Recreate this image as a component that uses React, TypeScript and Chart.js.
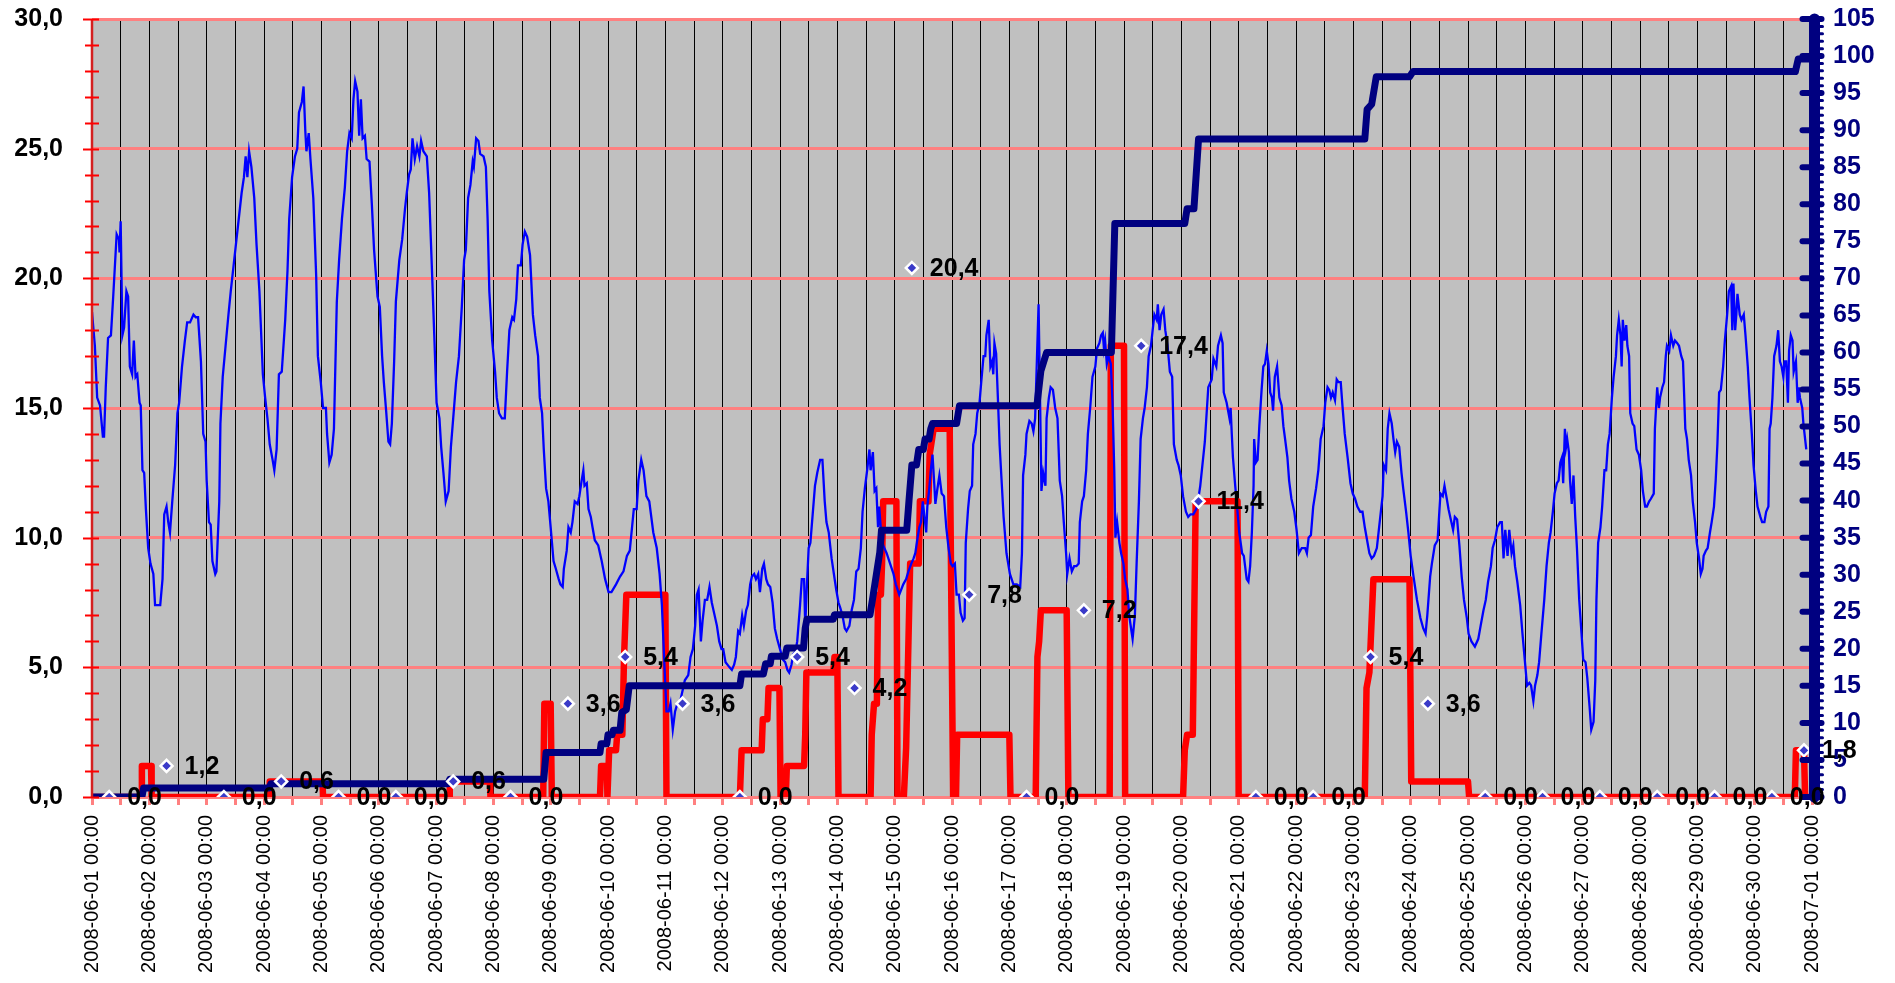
import React, { useEffect, useRef } from 'react';
import { Chart, registerables } from 'chart.js';

Chart.register(...registerables);

// x values are days since 2008-06-01 00:00
const dateTickLabels = [
  '2008-06-01 00:00', '2008-06-02 00:00', '2008-06-03 00:00', '2008-06-04 00:00', '2008-06-05 00:00',
  '2008-06-06 00:00', '2008-06-07 00:00', '2008-06-08 00:00', '2008-06-09 00:00', '2008-06-10 00:00',
  '2008-06-11 00:00', '2008-06-12 00:00', '2008-06-13 00:00', '2008-06-14 00:00', '2008-06-15 00:00',
  '2008-06-16 00:00', '2008-06-17 00:00', '2008-06-18 00:00', '2008-06-19 00:00', '2008-06-20 00:00',
  '2008-06-21 00:00', '2008-06-22 00:00', '2008-06-23 00:00', '2008-06-24 00:00', '2008-06-25 00:00',
  '2008-06-26 00:00', '2008-06-27 00:00', '2008-06-28 00:00', '2008-06-29 00:00', '2008-06-30 00:00',
  '2008-07-01 00:00',
];

// temperature [day, °C] (left axis)
const temperature: [number, number][] = [
  [0, 18.7], [0.05, 17.4], [0.09, 15.4], [0.14, 15.1], [0.19, 13.9], [0.21, 13.9], [0.24, 15.8], [0.28, 17.7],
  [0.33, 17.8], [0.37, 19.3], [0.43, 21.7], [0.47, 21.5], [0.48, 21.0], [0.5, 22.2], [0.53, 17.8], [0.56, 18.1],
  [0.6, 19.5], [0.63, 19.3], [0.66, 16.6], [0.7, 16.3], [0.73, 17.6], [0.76, 16.2], [0.79, 16.3], [0.83, 15.2],
  [0.85, 15.1], [0.88, 12.6], [0.91, 12.5], [0.94, 11.1], [0.98, 9.6], [1.02, 9.0], [1.07, 8.6], [1.1, 7.4],
  [1.16, 7.4], [1.19, 7.4], [1.23, 8.4], [1.26, 10.9], [1.3, 11.2], [1.33, 10.6], [1.36, 10.2], [1.4, 11.4],
  [1.45, 12.8], [1.49, 14.8], [1.52, 15.2], [1.57, 16.6], [1.62, 17.6], [1.66, 18.3], [1.71, 18.3], [1.77, 18.6],
  [1.81, 18.5], [1.85, 18.5], [1.9, 16.8], [1.94, 14.0], [1.98, 13.7], [2.0, 12.2], [2.04, 10.6], [2.07, 10.5],
  [2.1, 9.1], [2.15, 8.6], [2.17, 8.7], [2.22, 11.4], [2.24, 14.4], [2.28, 16.2], [2.33, 17.4], [2.38, 18.6],
  [2.42, 19.5], [2.48, 20.7], [2.52, 21.5], [2.57, 22.5], [2.61, 23.3], [2.65, 23.9], [2.68, 24.7], [2.71, 23.9],
  [2.74, 24.9], [2.78, 24.3], [2.83, 23.1], [2.87, 21.3], [2.92, 19.5], [2.98, 16.3], [3.02, 15.4], [3.06, 14.6],
  [3.1, 13.6], [3.15, 13.0], [3.18, 12.6], [3.22, 13.4], [3.26, 16.3], [3.31, 16.4], [3.37, 18.4], [3.41, 20.3],
  [3.44, 22.3], [3.49, 23.9], [3.54, 24.7], [3.58, 25.0], [3.61, 26.4], [3.66, 26.8], [3.69, 27.4], [3.72, 25.7],
  [3.74, 24.9], [3.78, 25.6], [3.81, 24.6], [3.86, 23.1], [3.91, 20.1], [3.94, 17.0], [3.99, 16.0], [4.03, 15.0],
  [4.08, 15.0], [4.1, 14.0], [4.14, 12.9], [4.18, 13.2], [4.22, 14.2], [4.27, 19.1], [4.31, 20.7], [4.36, 22.3],
  [4.41, 23.5], [4.45, 24.9], [4.49, 25.6], [4.53, 25.4], [4.56, 26.9], [4.59, 27.6], [4.63, 27.2], [4.66, 25.5],
  [4.69, 26.9], [4.72, 25.4], [4.76, 25.5], [4.79, 24.6], [4.84, 24.5], [4.88, 22.9], [4.92, 21.1], [4.98, 19.3],
  [5.02, 18.9], [5.06, 17.0], [5.09, 16.0], [5.13, 14.9], [5.17, 13.7], [5.2, 13.6], [5.23, 14.4], [5.27, 16.8],
  [5.3, 19.1], [5.36, 20.7], [5.41, 21.5], [5.46, 22.7], [5.49, 23.3], [5.53, 24.0], [5.56, 24.2], [5.59, 25.4],
  [5.63, 24.6], [5.67, 25.1], [5.71, 24.7], [5.74, 25.3], [5.78, 24.9], [5.84, 24.7], [5.88, 23.3], [5.92, 20.9],
  [5.97, 17.8], [6.01, 15.2], [6.06, 14.6], [6.09, 13.5], [6.13, 12.5], [6.17, 11.4], [6.22, 11.8], [6.26, 13.5],
  [6.3, 14.6], [6.35, 16.0], [6.4, 17.0], [6.45, 18.9], [6.49, 20.7], [6.52, 21.1], [6.56, 23.1], [6.6, 23.6],
  [6.64, 24.5], [6.66, 24.3], [6.7, 25.4], [6.74, 25.3], [6.77, 24.8], [6.83, 24.7], [6.87, 24.3], [6.9, 22.3],
  [6.93, 19.5], [6.98, 17.6], [7.03, 16.4], [7.06, 15.4], [7.1, 14.8], [7.15, 14.6], [7.2, 14.6], [7.24, 16.4],
  [7.28, 18.0], [7.33, 18.5], [7.36, 18.4], [7.4, 19.2], [7.43, 20.5], [7.48, 20.5], [7.51, 21.3], [7.55, 21.8],
  [7.59, 21.6], [7.64, 20.9], [7.69, 18.6], [7.73, 17.8], [7.78, 17.0], [7.81, 15.4], [7.85, 14.8], [7.88, 13.4],
  [7.92, 11.9], [7.96, 11.4], [8.0, 10.4], [8.05, 9.1], [8.09, 8.8], [8.14, 8.4], [8.17, 8.2], [8.21, 8.1],
  [8.23, 8.8], [8.28, 9.5], [8.31, 10.4], [8.35, 10.2], [8.38, 10.6], [8.42, 11.4], [8.47, 11.3], [8.5, 11.6],
  [8.54, 12.2], [8.57, 12.6], [8.59, 12.0], [8.63, 12.1], [8.66, 11.1], [8.7, 10.8], [8.73, 10.4], [8.77, 9.9],
  [8.83, 9.7], [8.89, 9.1], [8.95, 8.4], [9.01, 7.9], [9.06, 7.9], [9.14, 8.2], [9.21, 8.5], [9.27, 8.7],
  [9.33, 9.3], [9.38, 9.5], [9.45, 11.1], [9.5, 11.1], [9.53, 12.2], [9.58, 13.0], [9.62, 12.6], [9.67, 11.6],
  [9.72, 11.4], [9.79, 10.2], [9.85, 9.6], [9.9, 8.6], [9.94, 7.4], [9.98, 5.3], [10.02, 3.3], [10.06, 3.3],
  [10.09, 3.6], [10.13, 2.6], [10.17, 3.3], [10.21, 3.6], [10.26, 3.7], [10.3, 4.1], [10.34, 4.5], [10.4, 4.7],
  [10.44, 5.4], [10.48, 5.7], [10.52, 6.6], [10.55, 7.8], [10.58, 8.0], [10.62, 6.0], [10.65, 6.8], [10.69, 7.6],
  [10.73, 7.6], [10.77, 8.1], [10.81, 7.5], [10.85, 7.1], [10.9, 6.6], [10.94, 6.0], [10.98, 5.7], [11.01, 5.7],
  [11.05, 5.2], [11.12, 5.0], [11.16, 4.9], [11.2, 5.1], [11.23, 5.4], [11.27, 6.4], [11.3, 6.3], [11.34, 7.0],
  [11.37, 6.6], [11.41, 7.2], [11.44, 7.4], [11.48, 8.2], [11.51, 8.5], [11.55, 8.6], [11.58, 8.4], [11.62, 8.6],
  [11.65, 7.9], [11.69, 8.8], [11.72, 9.0], [11.76, 8.4], [11.79, 8.2], [11.83, 8.1], [11.87, 7.5], [11.91, 6.5],
  [11.95, 6.1], [12.0, 5.7], [12.05, 5.3], [12.09, 5.2], [12.13, 4.9], [12.16, 4.8], [12.2, 5.1], [12.23, 5.5],
  [12.27, 5.6], [12.3, 6.0], [12.35, 7.4], [12.38, 8.4], [12.42, 8.4], [12.44, 6.6], [12.47, 8.2], [12.5, 9.6],
  [12.53, 9.8], [12.57, 10.9], [12.61, 12.0], [12.65, 12.5], [12.7, 13.0], [12.74, 13.0], [12.78, 11.4], [12.81, 10.6],
  [12.85, 10.2], [12.9, 9.2], [12.94, 8.6], [12.98, 8.0], [13.02, 7.5], [13.05, 7.3], [13.09, 7.0], [13.13, 6.5],
  [13.16, 6.4], [13.21, 6.6], [13.25, 7.2], [13.29, 7.6], [13.33, 8.7], [13.37, 8.8], [13.41, 9.6], [13.44, 11.0],
  [13.48, 11.9], [13.52, 12.6], [13.56, 13.4], [13.58, 12.6], [13.62, 13.3], [13.65, 11.8], [13.68, 11.9], [13.71, 10.4],
  [13.73, 11.2], [13.77, 10.0], [13.8, 9.7], [13.86, 9.4], [13.92, 9.0], [13.98, 8.6], [14.02, 8.2], [14.08, 7.8],
  [14.15, 8.2], [14.2, 8.4], [14.24, 8.7], [14.29, 9.0], [14.33, 9.2], [14.36, 9.4], [14.4, 10.0], [14.43, 10.4],
  [14.46, 10.6], [14.49, 11.4], [14.52, 10.8], [14.55, 10.2], [14.57, 11.2], [14.6, 11.8], [14.63, 12.6], [14.66, 13.2],
  [14.69, 12.1], [14.71, 11.3], [14.74, 11.8], [14.78, 12.4], [14.82, 11.7], [14.86, 11.6], [14.9, 10.4], [14.94, 9.6],
  [14.98, 9.0], [15.01, 8.9], [15.05, 9.0], [15.08, 7.8], [15.12, 7.8], [15.15, 7.1], [15.19, 6.8], [15.22, 6.9],
  [15.24, 9.8], [15.28, 11.1], [15.31, 11.8], [15.35, 12.0], [15.37, 13.6], [15.41, 14.0], [15.44, 14.8], [15.48, 15.2],
  [15.51, 16.0], [15.55, 17.0], [15.58, 17.0], [15.6, 17.8], [15.64, 18.4], [15.67, 16.6], [15.7, 16.8], [15.72, 16.3],
  [15.74, 17.5], [15.77, 17.1], [15.8, 15.4], [15.83, 13.6], [15.9, 10.8], [15.95, 9.4], [16.01, 8.6], [16.07, 8.2],
  [16.13, 8.2], [16.19, 8.1], [16.22, 9.4], [16.24, 12.4], [16.28, 13.2], [16.3, 14.0], [16.35, 14.5], [16.39, 14.4],
  [16.42, 14.1], [16.45, 14.6], [16.48, 16.8], [16.51, 19.0], [16.53, 16.2], [16.56, 11.8], [16.59, 12.5], [16.63, 12.0],
  [16.65, 14.6], [16.69, 15.4], [16.72, 15.8], [16.76, 15.7], [16.8, 15.0], [16.84, 14.6], [16.88, 12.2], [16.92, 11.6],
  [16.95, 10.6], [16.99, 9.4], [17.01, 8.6], [17.05, 9.2], [17.09, 8.7], [17.13, 8.9], [17.17, 8.9], [17.21, 9.0],
  [17.23, 10.6], [17.27, 11.4], [17.3, 11.6], [17.34, 12.6], [17.37, 14.0], [17.41, 15.0], [17.45, 16.2], [17.5, 16.6],
  [17.53, 17.3], [17.57, 17.5], [17.6, 17.8], [17.63, 17.9], [17.65, 17.3], [17.67, 17.6], [17.7, 16.7], [17.73, 17.0],
  [17.77, 16.7], [17.8, 15.2], [17.83, 12.6], [17.85, 10.0], [17.88, 10.6], [17.92, 9.8], [17.95, 9.4], [17.99, 9.0],
  [18.02, 8.4], [18.06, 8.0], [18.09, 7.0], [18.13, 6.4], [18.15, 6.1], [18.19, 7.0], [18.22, 9.0], [18.26, 11.4],
  [18.29, 13.8], [18.33, 14.6], [18.36, 15.0], [18.4, 15.8], [18.43, 17.0], [18.47, 17.4], [18.5, 18.0], [18.53, 18.6],
  [18.57, 18.4], [18.59, 19.0], [18.62, 18.0], [18.65, 18.6], [18.69, 18.8], [18.72, 18.0], [18.76, 17.4], [18.8, 16.4],
  [18.84, 16.2], [18.87, 13.6], [18.92, 13.0], [18.95, 12.8], [18.99, 12.4], [19.03, 11.6], [19.08, 11.0], [19.12, 10.8],
  [19.16, 10.9], [19.21, 10.9], [19.26, 11.1], [19.29, 11.4], [19.33, 12.0], [19.41, 13.7], [19.47, 15.8], [19.53, 16.1],
  [19.56, 16.9], [19.61, 16.6], [19.64, 17.4], [19.69, 17.8], [19.72, 17.5], [19.74, 15.6], [19.79, 15.2], [19.84, 14.6],
  [19.86, 15.0], [19.88, 14.0], [19.9, 13.1], [19.94, 12.0], [19.98, 11.0], [20.01, 10.2], [20.06, 9.4], [20.09, 9.3],
  [20.14, 8.4], [20.17, 8.3], [20.2, 8.9], [20.23, 10.2], [20.26, 12.0], [20.27, 13.8], [20.3, 12.9], [20.33, 13.0],
  [20.36, 14.3], [20.4, 15.7], [20.43, 16.6], [20.46, 16.7], [20.49, 17.2], [20.52, 16.7], [20.55, 15.6], [20.58, 15.4],
  [20.6, 14.9], [20.63, 16.2], [20.67, 16.6], [20.71, 15.4], [20.75, 15.1], [20.78, 14.3], [20.81, 13.8], [20.85, 13.1],
  [20.88, 12.2], [20.92, 11.5], [20.97, 11.0], [21.01, 10.3], [21.05, 9.4], [21.1, 9.6], [21.16, 9.6], [21.19, 9.4],
  [21.22, 10.0], [21.26, 10.1], [21.3, 11.2], [21.35, 11.9], [21.39, 12.6], [21.43, 13.8], [21.48, 14.3], [21.51, 15.2],
  [21.55, 15.8], [21.58, 15.7], [21.61, 15.4], [21.64, 15.6], [21.68, 15.3], [21.71, 16.1], [21.74, 16.0], [21.78, 16.0],
  [21.81, 15.1], [21.85, 14.0], [21.9, 13.1], [21.95, 12.1], [21.99, 11.7], [22.03, 11.5], [22.07, 11.2], [22.12, 11.0],
  [22.16, 11.0], [22.2, 10.4], [22.24, 9.9], [22.28, 9.4], [22.32, 9.2], [22.36, 9.3], [22.41, 9.6], [22.44, 10.2],
  [22.48, 11.0], [22.51, 11.6], [22.53, 12.8], [22.57, 12.6], [22.6, 14.2], [22.63, 14.8], [22.67, 14.4], [22.7, 13.8],
  [22.73, 13.3], [22.76, 13.7], [22.8, 13.5], [22.84, 12.5], [22.87, 11.9], [22.92, 11.0], [22.96, 10.2], [23.0, 9.3],
  [23.05, 8.5], [23.11, 7.6], [23.17, 6.9], [23.22, 6.5], [23.26, 6.3], [23.29, 7.0], [23.32, 7.9], [23.34, 8.5],
  [23.37, 9.0], [23.42, 9.7], [23.47, 9.9], [23.5, 11.0], [23.52, 11.7], [23.56, 11.6], [23.59, 12.0], [23.63, 11.5],
  [23.66, 11.1], [23.7, 10.7], [23.74, 10.3], [23.77, 10.8], [23.81, 10.7], [23.85, 9.7], [23.89, 8.5], [23.93, 7.6],
  [23.98, 6.9], [24.01, 6.3], [24.06, 6.0], [24.12, 5.8], [24.18, 6.1], [24.22, 6.6], [24.27, 7.2], [24.31, 7.6],
  [24.35, 8.3], [24.4, 8.9], [24.43, 9.6], [24.47, 9.9], [24.51, 10.4], [24.56, 10.6], [24.59, 10.6], [24.62, 9.2],
  [24.65, 10.3], [24.69, 9.3], [24.72, 10.3], [24.76, 9.4], [24.79, 9.7], [24.82, 8.9], [24.86, 8.3], [24.91, 7.4],
  [24.95, 6.3], [24.99, 5.3], [25.03, 4.3], [25.07, 4.4], [25.1, 4.3], [25.14, 3.7], [25.17, 4.3], [25.21, 4.7],
  [25.24, 5.2], [25.28, 6.3], [25.33, 7.6], [25.37, 8.9], [25.41, 9.8], [25.44, 10.2], [25.48, 11.0], [25.51, 11.7],
  [25.55, 12.1], [25.58, 12.2], [25.61, 12.9], [25.64, 13.1], [25.66, 12.1], [25.69, 14.2], [25.71, 13.5], [25.73, 13.8],
  [25.76, 13.3], [25.78, 12.2], [25.81, 11.3], [25.84, 12.4], [25.87, 10.8], [25.9, 9.6], [25.94, 7.6], [25.98, 6.3],
  [26.01, 5.3], [26.05, 5.2], [26.08, 4.6], [26.12, 3.5], [26.15, 2.6], [26.19, 2.9], [26.22, 4.5], [26.24, 7.6],
  [26.27, 9.8], [26.31, 10.4], [26.34, 11.2], [26.38, 12.6], [26.41, 12.6], [26.44, 13.6], [26.47, 14.0], [26.51, 15.4],
  [26.54, 16.2], [26.58, 17.0], [26.6, 17.8], [26.63, 18.4], [26.66, 17.8], [26.68, 16.6], [26.7, 18.4], [26.73, 17.6],
  [26.76, 18.2], [26.78, 17.4], [26.81, 17.0], [26.83, 14.8], [26.87, 14.4], [26.9, 14.3], [26.94, 13.4], [26.98, 13.2],
  [27.02, 12.6], [27.05, 11.8], [27.09, 11.2], [27.12, 11.2], [27.16, 11.4], [27.19, 11.5], [27.24, 11.7], [27.26, 14.2],
  [27.3, 15.8], [27.33, 15.0], [27.35, 15.4], [27.39, 15.8], [27.42, 16.0], [27.45, 17.0], [27.47, 17.4], [27.51, 17.2],
  [27.54, 17.8], [27.58, 17.4], [27.61, 17.6], [27.65, 17.5], [27.68, 17.4], [27.72, 17.0], [27.75, 16.8], [27.79, 14.2],
  [27.82, 13.8], [27.85, 13.0], [27.89, 12.4], [27.92, 11.4], [27.96, 10.6], [27.99, 9.8], [28.03, 9.2], [28.06, 8.6],
  [28.09, 8.8], [28.11, 9.3], [28.15, 9.5], [28.18, 9.6], [28.22, 10.2], [28.25, 10.6], [28.29, 11.2], [28.32, 12.2],
  [28.35, 13.6], [28.38, 15.6], [28.41, 15.7], [28.45, 16.6], [28.48, 17.6], [28.52, 18.6], [28.55, 19.5], [28.59, 19.7],
  [28.61, 18.0], [28.63, 19.8], [28.66, 18.0], [28.68, 18.6], [28.7, 19.4], [28.74, 18.6], [28.77, 18.4], [28.81, 18.6],
  [28.84, 17.8], [28.88, 16.6], [28.91, 15.4], [28.95, 14.0], [28.98, 12.8], [29.02, 11.8], [29.05, 11.2], [29.1, 10.8],
  [29.13, 10.6], [29.17, 10.6], [29.2, 11.0], [29.24, 11.2], [29.26, 14.2], [29.28, 14.4], [29.31, 15.4], [29.34, 17.0],
  [29.38, 17.4], [29.41, 18.0], [29.44, 16.8], [29.47, 16.6], [29.5, 16.2], [29.52, 16.8], [29.55, 16.8], [29.58, 15.2],
  [29.6, 17.2], [29.63, 17.8], [29.66, 17.6], [29.68, 16.4], [29.7, 16.6], [29.72, 16.8], [29.75, 15.2], [29.77, 15.8],
  [29.79, 15.4], [29.83, 15.0], [29.85, 14.4], [29.88, 13.8], [29.9, 13.4],
];

// rain intensity [day, mm] (left axis)
const rainIntensity: [number, number][] = [
  [0, 0], [0.86, 0], [0.87, 1.2], [1.03, 1.2], [1.04, 0], [3.09, 0], [3.1, 0.6], [4.02, 0.6], [4.03, 0],
  [6.23, 0], [6.24, 0.6], [6.94, 0.6], [6.95, 0], [7.87, 0], [7.89, 3.6], [8.0, 3.6], [8.02, 0],
  [8.86, 0], [8.88, 1.2], [8.98, 1.2], [8.99, 0], [9.02, 1.8], [9.14, 1.8], [9.16, 2.4], [9.25, 2.4],
  [9.28, 5.4], [9.32, 7.8], [10.0, 7.8], [10.02, 0], [11.3, 0], [11.33, 1.8], [11.68, 1.8], [11.7, 3.0],
  [11.78, 3.0], [11.8, 4.2], [11.99, 4.2], [12.01, 0], [12.1, 0], [12.12, 1.2], [12.42, 1.2], [12.44, 2.4],
  [12.46, 4.8], [12.93, 4.8], [12.95, 5.4], [13.0, 5.4], [13.02, 0], [13.58, 0], [13.6, 2.4], [13.64, 3.6],
  [13.69, 3.6], [13.71, 7.8], [13.76, 7.8], [13.78, 9.0], [13.8, 11.4], [14.03, 11.4], [14.05, 0], [14.16, 0],
  [14.2, 1.9], [14.27, 9.0], [14.42, 9.0], [14.44, 11.4], [14.59, 11.4], [14.61, 13.2], [14.68, 14.2], [14.96, 14.2],
  [15.02, 0], [15.07, 0], [15.09, 2.4], [16.0, 2.4], [16.02, 0], [16.46, 0], [16.49, 5.4], [16.52, 6.0],
  [16.55, 7.2], [17.0, 7.2], [17.03, 0], [17.75, 0], [17.77, 17.4], [18.0, 17.4], [18.02, 0], [19.03, 0],
  [19.06, 1.8], [19.1, 2.4], [19.2, 2.4], [19.25, 11.4], [19.98, 11.4], [20.0, 0], [22.2, 0], [22.23, 4.2],
  [22.28, 4.8], [22.35, 8.4], [22.98, 8.4], [23.01, 0.6], [24.0, 0.6], [24.02, 0], [29.7, 0], [29.72, 1.8],
  [29.86, 1.8], [29.88, 0], [30, 0],
];

// cumulative rain [day, mm] (right axis)
const cumulativeRain: [number, number][] = [
  [0, 0], [0.87, 0], [0.9, 1.2], [3.09, 1.2], [3.12, 1.8], [6.21, 1.8], [6.24, 2.4], [7.88, 2.4], [7.92, 6.0],
  [8.86, 6.0], [8.88, 7.2], [8.98, 7.2], [9.0, 8.4], [9.07, 8.4], [9.09, 9.0], [9.21, 9.0], [9.24, 11.4],
  [9.32, 11.8], [9.37, 15.0], [11.3, 15.0], [11.33, 16.6], [11.71, 16.6], [11.75, 18.0], [11.83, 18.0],
  [11.85, 19.0], [12.09, 19.0], [12.12, 20.1], [12.41, 20.1], [12.44, 22.8], [12.47, 24.0], [12.93, 24.0],
  [12.95, 24.6], [13.57, 24.6], [13.62, 27.0], [13.68, 30.0], [13.74, 33.0], [13.77, 36.0], [14.21, 36.0],
  [14.25, 40.0], [14.3, 44.8], [14.38, 44.8], [14.42, 46.9], [14.5, 46.9], [14.53, 48.3], [14.6, 48.3],
  [14.63, 49.7], [14.66, 50.4], [15.08, 50.4], [15.13, 52.8], [16.48, 52.8], [16.55, 57.5], [16.65, 60.0],
  [17.78, 60.0], [17.84, 77.4], [19.06, 77.4], [19.1, 79.4], [19.22, 79.4], [19.3, 88.8], [22.2, 88.8],
  [22.24, 92.8], [22.32, 93.5], [22.4, 97.2], [22.98, 97.2], [23.04, 97.9], [29.71, 97.9], [29.76, 99.6],
  [30, 99.6],
];

// daily rain totals, shown as markers with labels (left axis)
const dailyRainDays = [
  0.3, 1.3, 2.3, 3.3, 4.3, 5.3, 6.3, 7.3, 8.3, 9.3, 10.3, 11.3, 12.3, 13.3, 14.3, 15.3,
  16.3, 17.3, 18.3, 19.3, 20.3, 21.3, 22.3, 23.3, 24.3, 25.3, 26.3, 27.3, 28.3, 29.3, 29.86,
];
const dailyRainValues = [
  0, 1.2, 0, 0.6, 0, 0, 0.6, 0, 3.6, 5.4, 3.6, 0, 5.4, 4.2, 20.4, 7.8,
  0, 7.2, 17.4, 11.4, 0, 0, 5.4, 3.6, 0, 0, 0, 0, 0, 0, 1.8,
];

const leftTicks = [0, 5, 10, 15, 20, 25, 30];
const rightTicks = [0, 5, 10, 15, 20, 25, 30, 35, 40, 45, 50, 55, 60, 65, 70, 75, 80, 85, 90, 95, 100, 105];

const FONT = '"Liberation Sans", Arial, Helvetica, sans-serif';
const fmt = (v: number) => v.toFixed(1).replace('.', ',');

const decorPlugin = {
  id: 'decor',
  beforeDraw(chart: any) {
    const { ctx, chartArea: a } = chart;
    ctx.save();
    ctx.fillStyle = '#C0C0C0';
    ctx.fillRect(a.left, a.top, a.right - a.left, a.bottom - a.top);
    ctx.restore();
  },
  afterDatasetsDraw(chart: any) {
    const { ctx, chartArea: a, scales } = chart;
    const yL = scales.y;
    const yR = scales.y2;
    ctx.save();
    // left axis line and ticks
    ctx.strokeStyle = '#D42020';
    ctx.lineWidth = 2.5;
    ctx.beginPath();
    ctx.moveTo(a.left, a.top);
    ctx.lineTo(a.left, a.bottom);
    ctx.stroke();
    ctx.strokeStyle = '#FF0000';
    ctx.lineWidth = 2;
    for (let v = yL.min; v <= yL.max; v += 1) {
      const py = Math.round(yL.getPixelForValue(v)) + 0.5;
      const major = leftTicks.includes(v);
      ctx.beginPath();
      ctx.moveTo(a.left - (major ? 9 : 7), py);
      ctx.lineTo(a.left + 7, py);
      ctx.stroke();
    }
    // right axis: thick navy line with ticks
    const ax = a.right + 2.5;
    ctx.strokeStyle = '#000080';
    ctx.lineCap = 'round';
    ctx.lineWidth = 3;
    for (let v = yR.min; v <= yR.max; v += 1) {
      const py = yR.getPixelForValue(v);
      ctx.beginPath();
      ctx.moveTo(ax, py);
      ctx.lineTo(ax + 8, py);
      ctx.stroke();
    }
    ctx.lineWidth = 11;
    ctx.beginPath();
    ctx.moveTo(ax, a.top);
    ctx.lineTo(ax, a.bottom);
    ctx.stroke();
    ctx.lineWidth = 6;
    for (const v of rightTicks) {
      const py = yR.getPixelForValue(v);
      ctx.beginPath();
      ctx.moveTo(ax - 12, py);
      ctx.lineTo(ax + 7, py);
      ctx.stroke();
    }
    ctx.restore();
  },
  afterDraw(chart: any) {
    const { ctx } = chart;
    const meta = chart.getDatasetMeta(3);
    ctx.save();
    ctx.fillStyle = '#000000';
    ctx.font = `bold 25px ${FONT}`;
    ctx.textAlign = 'left';
    ctx.textBaseline = 'middle';
    meta.data.forEach((pt: any, i: number) => {
      ctx.fillText(fmt(dailyRainValues[i]), pt.x + 18, pt.y + 1);
    });
    ctx.restore();
  },
};

export default function App() {
  const canvasRef = useRef<HTMLCanvasElement | null>(null);

  useEffect(() => {
    document.body.style.margin = '0';
    const canvas = canvasRef.current;
    if (!canvas) return;
    const chart = new Chart(canvas, {
      type: 'line',
      data: {
        datasets: [
          {
            label: 'Temperatur',
            data: temperature.map(([x, y]) => ({ x, y })),
            borderColor: '#0000FF',
            borderWidth: 2.3,
            pointRadius: 0,
            tension: 0,
            yAxisID: 'y',
            order: 3,
          },
          {
            label: 'Nederbörd intensitet',
            data: rainIntensity.map(([x, y]) => ({ x, y })),
            borderColor: '#FF0000',
            borderWidth: 6.5,
            borderJoinStyle: 'round',
            borderCapStyle: 'round',
            pointRadius: 0,
            tension: 0,
            yAxisID: 'y',
            order: 4,
          },
          {
            label: 'Ackumulerad nederbörd',
            data: cumulativeRain.map(([x, y]) => ({ x, y })),
            borderColor: '#000080',
            borderWidth: 7,
            borderJoinStyle: 'round',
            borderCapStyle: 'round',
            pointRadius: 0,
            tension: 0,
            yAxisID: 'y2',
            order: 2,
          },
          {
            label: 'Dygnsnederbörd',
            data: dailyRainDays.map((x, i) => ({ x, y: dailyRainValues[i] })),
            showLine: false,
            pointStyle: 'rectRot',
            pointRadius: 6,
            pointBackgroundColor: '#3A3AC8',
            pointBorderColor: '#FFFFFF',
            pointBorderWidth: 2.5,
            yAxisID: 'y',
            order: 1,
          },
        ],
      },
      options: {
        animation: false,
        responsive: true,
        maintainAspectRatio: false,
        events: [],
        layout: { padding: { top: 19, left: 0, right: 0, bottom: 0 } },
        plugins: { legend: { display: false }, tooltip: { enabled: false } },
        scales: {
          x: {
            type: 'linear',
            position: 'bottom',
            min: 0,
            max: 30,
            afterFit: (s: any) => { s.height = 186; s.paddingLeft = 0; s.paddingRight = 0; },
            grid: { color: '#000000', lineWidth: 1, drawTicks: true, tickLength: 8, tickColor: '#FF8080', tickWidth: 3 },
            border: { display: false },
            ticks: {
              stepSize: 0.5,
              autoSkip: false,
              maxRotation: 90,
              minRotation: 90,
              padding: 10,
              color: '#000000',
              font: { family: FONT, size: 20 },
              callback: (v: any) => {
                const i = Math.round(Number(v) * 2);
                return i % 2 === 0 ? dateTickLabels[i / 2] : '';
              },
            },
          },
          y: {
            type: 'linear',
            position: 'left',
            min: 0,
            max: 30,
            afterFit: (s: any) => { s.width = 92; s.paddingTop = 0; s.paddingBottom = 0; },
            grid: { color: '#FF8080', lineWidth: 3, drawTicks: false },
            border: { display: false },
            ticks: {
              stepSize: 5,
              padding: 29,
              color: '#000000',
              font: { family: FONT, size: 25, weight: 'bold' },
              callback: (v: any) => fmt(Number(v)),
            },
          },
          y2: {
            type: 'linear',
            position: 'right',
            min: 0,
            max: 105,
            afterFit: (s: any) => { s.width = 83; s.paddingTop = 0; s.paddingBottom = 0; },
            grid: { display: false, drawTicks: false },
            border: { display: false },
            ticks: {
              stepSize: 5,
              padding: 21,
              color: '#000080',
              font: { family: FONT, size: 25, weight: 'bold' },
              callback: (v: any) => String(v),
            },
          },
        },
      },
      plugins: [decorPlugin],
    } as any);
    return () => chart.destroy();
  }, []);

  return (
    <div style={{ position: 'absolute', left: 0, top: 0, width: 1895, height: 983 }}>
      <canvas ref={canvasRef} />
    </div>
  );
}
